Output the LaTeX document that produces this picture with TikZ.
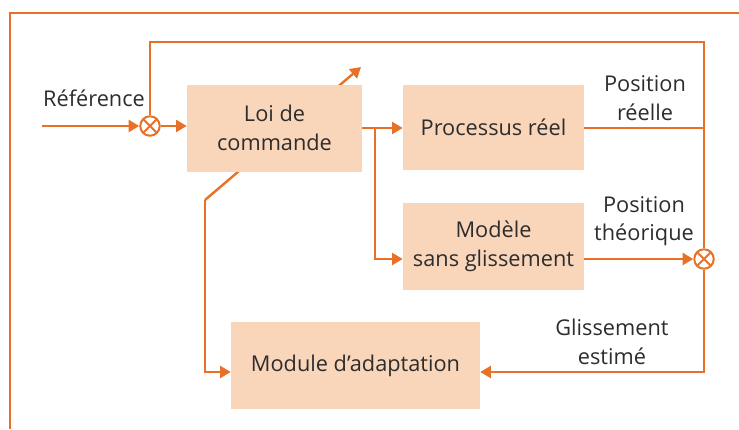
\documentclass[tikz,border=0pt]{standalone}
\usepackage{fontspec}
\setmainfont{Open Sans}
\usetikzlibrary{arrows.meta}
\definecolor{orangeligne}{RGB}{232,113,40}
\definecolor{fondbloc}{RGB}{249,213,186}
\definecolor{texte}{RGB}{45,45,45}

\begin{document}
\begin{tikzpicture}[x=0.75pt,y=0.75pt,yscale=-1,xscale=1,
  lien/.style={draw=orangeligne,line width=1.8pt},
  fleche/.style={lien,-{Triangle[length=8pt,width=9pt]}},
  cadre/.style={draw=orangeligne,line width=0.8pt},
  bloc/.style={fill=fondbloc,text=texte,inner sep=0pt,align=center,font=\fontsize{16.3}{22}\selectfont},
  etiquette/.style={text=texte,inner sep=0pt,align=center,font=\fontsize{16.3}{21.5}\selectfont},
  somme/.style={circle,draw=orangeligne,line width=1.5pt,fill=white,minimum size=14.6pt,inner sep=0pt,
    path picture={\draw[orangeligne,line width=1.5pt]
      ([shift={(45:7.3pt)}]path picture bounding box.center) -- ([shift={(225:7.3pt)}]path picture bounding box.center)
      ([shift={(135:7.3pt)}]path picture bounding box.center) -- ([shift={(315:7.3pt)}]path picture bounding box.center);}}]
\useasboundingbox (0,0) rectangle (739,429);

%Frame
\draw[cadre] (739,13) -- (10,13) -- (10,429);

%Coordinates
\coordinate (entree) at (42,126);
\coordinate (haut) at (150,42);
\coordinate (branche) at (375,128);
\coordinate (bas) at (704,372);
\coordinate (coude) at (205,200);
\coordinate (param) at (361,67);

%Adaptation arrow (behind the block)
\draw[fleche] (coude) -- (param);

%Blocks
\node[bloc,minimum width=131.25pt,minimum height=65.25pt] (loi) at (274.5,128) {Loi de\\commande};
\node[bloc,minimum width=135.75pt,minimum height=63.75pt] (proc) at (493.5,127.5) {Processus réel};
\node[bloc,minimum width=135.75pt,minimum height=65.25pt] (modele) at (493.5,246.5) {Modèle\\sans glissement};
\node[bloc,minimum width=186.75pt,minimum height=65.25pt] (module) at (355.5,365.5) {Module d’adaptation};

%Summing points
\node[somme] (som1) at (150,126) {};
\node[somme] (som2) at (704,259) {};

% Text Node
\node[etiquette] (lref) at (94,98) {Référence};
% Text Node
\node[etiquette] (lreel) at (645,98) {Position\\réelle};
% Text Node
\node[etiquette] (ltheo) at (644,221) {Position\\théorique};
% Text Node
\node[etiquette] (lgliss) at (612,342) {Glissement\\estimé};

%Straight Lines
\draw[fleche] (entree) -- (som1);
\draw[fleche] (som1) -- (loi.west |- som1);
\draw[lien] (som1) -- (haut) -| (som2);
\draw[lien] (loi.east) -- (branche);
\draw[fleche] (branche) -- (proc.west |- branche);
\draw[fleche] (branche) |- (modele.west |- som2);
\draw[lien] (proc.east |- branche) -- (branche -| som2);
\draw[fleche] (modele.east |- som2) -- (som2);
\draw[fleche] (som2) |- (module.east |- bas);
\draw[fleche] (coude) |- (module.west |- bas);

\end{tikzpicture}
\end{document}
